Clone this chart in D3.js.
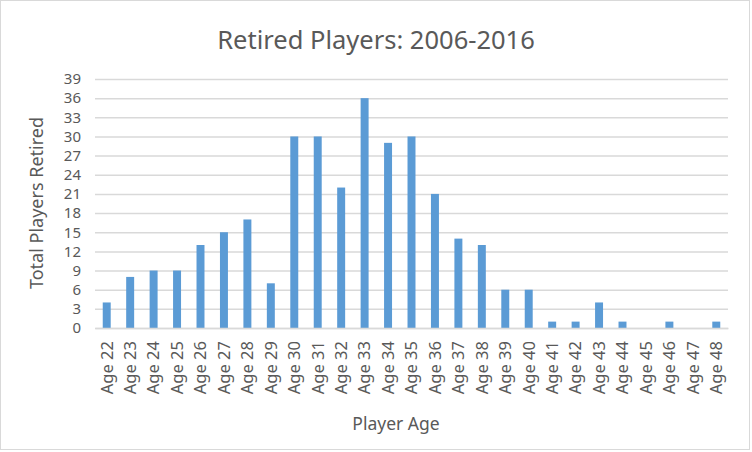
<!DOCTYPE html>
<html><head><meta charset="utf-8">
<script src="https://cdn.jsdelivr.net/npm/d3@7"></script>
<style>body{margin:0;background:#fff}svg{display:block}text{font-family:"Noto Sans",sans-serif;fill:#595959}</style>
</head><body><svg id="c" width="752" height="452"></svg>
<script>
const categories = ["Age 22","Age 23","Age 24","Age 25","Age 26","Age 27","Age 28","Age 29","Age 30","Age 31","Age 32","Age 33","Age 34","Age 35","Age 36","Age 37","Age 38","Age 39","Age 40","Age 41","Age 42","Age 43","Age 44","Age 45","Age 46","Age 47","Age 48"];
const values = [4,8,9,9,13,15,17,7,30,30,22,36,29,30,21,14,13,6,6,1,1,4,1,0,1,0,1];
const yTicks = [0,3,6,9,12,15,18,21,24,27,30,33,36,39];
const title = "Retired Players: 2006-2016";
const xTitle = "Player Age";
const yTitle = "Total Players Retired";

const svg = d3.select("#c");
svg.append("rect").attr("x",0.5).attr("y",0.5).attr("width",749).attr("height",449)
  .attr("fill","#fff").attr("stroke","#d9d9d9");
const m = {l:95, r:728, t:79, b:328};
const x = d3.scaleBand().domain(categories).range([m.l,m.r]).paddingInner(0.66).paddingOuter(0.33);
const y = d3.scaleLinear().domain([0,39]).range([m.b,m.t]);

const gy = svg.append("g").attr("transform",`translate(${m.l},0)`)
  .call(d3.axisLeft(y).tickValues(yTicks).tickSize(-(m.r-m.l)).tickPadding(14));
gy.select(".domain").remove();
gy.selectAll(".tick line").attr("stroke","#d9d9d9").attr("stroke-width",1.5);
gy.selectAll(".tick text").attr("font-size",15).attr("fill","#595959").attr("font-family","Noto Sans");

svg.append("g").selectAll("rect").data(values).join("rect")
  .attr("x",(d,i)=>x(categories[i])).attr("width",x.bandwidth())
  .attr("y",d=>y(d)).attr("height",d=>y(0)-y(d)).attr("fill","#5b9bd5");

const gx = svg.append("g").attr("transform",`translate(0,${m.b})`)
  .call(d3.axisBottom(x).tickSize(0).tickPadding(0));
gx.select(".domain").attr("stroke","#d9d9d9").attr("stroke-width",1.5);
gx.selectAll(".tick text").attr("font-size",16.5).attr("fill","#595959").attr("font-family","Noto Sans")
  .attr("transform","rotate(-90)").attr("text-anchor","end").attr("x",-13).attr("y",0).attr("dy","0.35em");

svg.append("text").attr("x",376).attr("y",49).attr("text-anchor","middle").attr("font-size",25.5).text(title);
svg.append("text").attr("x",396).attr("y",430).attr("text-anchor","middle").attr("font-size",17.5).text(xTitle);
svg.append("text").attr("transform","translate(43,203) rotate(-90)").attr("text-anchor","middle").attr("font-size",18).text(yTitle);
</script></body></html>
